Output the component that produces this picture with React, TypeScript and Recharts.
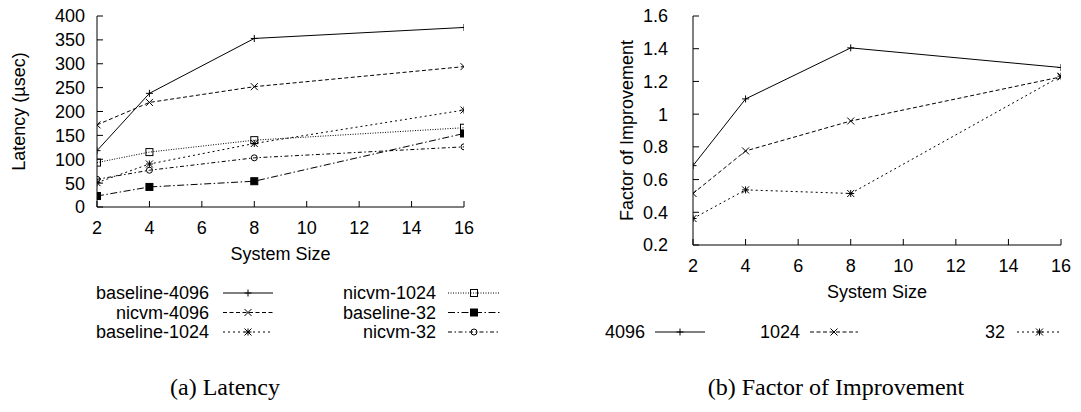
import React from 'react';
import { LineChart, Line, XAxis, YAxis, Legend } from 'recharts';

// System sizes (number of nodes) on the x axis
const systemSizes = [2, 4, 8, 16];
const sizeTicks = [2, 4, 6, 8, 10, 12, 14, 16];

// Latency in microseconds
const baseline4096 = [118, 238, 353, 376];
const nicvm4096 = [172, 219, 252, 294];
const baseline1024 = [51, 90, 133, 203];
const nicvm1024 = [93, 115, 140, 166];
const baseline32 = [23, 42, 54, 154];
const nicvm32 = [58, 77, 103, 126];
const latencyTicks = [0, 50, 100, 150, 200, 250, 300, 350, 400];

// Factor of improvement
const factor4096 = [0.685, 1.093, 1.405, 1.285];
const factor1024 = [0.515, 0.775, 0.958, 1.228];
const factor32 = [0.362, 0.537, 0.515, 1.232];
const factorTicks = [0.2, 0.4, 0.6, 0.8, 1.0, 1.2, 1.4, 1.6];

type Shape = 'plus' | 'cross' | 'star' | 'square' | 'filledSquare' | 'circle';

interface SeriesDef {
  key: string;
  name: string;
  values: number[];
  shape: Shape;
  dash?: string;
}

const latencySeries: SeriesDef[] = [
  { key: 'b4096', name: 'baseline-4096', values: baseline4096, shape: 'plus' },
  { key: 'n4096', name: 'nicvm-4096', values: nicvm4096, shape: 'cross', dash: '4 2.5' },
  { key: 'b1024', name: 'baseline-1024', values: baseline1024, shape: 'star', dash: '2 3' },
  { key: 'n1024', name: 'nicvm-1024', values: nicvm1024, shape: 'square', dash: '1 1.5' },
  { key: 'b32', name: 'baseline-32', values: baseline32, shape: 'filledSquare', dash: '7 2.5 1.5 2.5' },
  { key: 'n32', name: 'nicvm-32', values: nicvm32, shape: 'circle', dash: '4 2.5 1.5 2.5' },
];

const factorSeries: SeriesDef[] = [
  { key: 'f4096', name: '4096', values: factor4096, shape: 'plus' },
  { key: 'f1024', name: '1024', values: factor1024, shape: 'cross', dash: '4 2.5' },
  { key: 'f32', name: '32', values: factor32, shape: 'star', dash: '2 3' },
];

const buildRows = (series: SeriesDef[]) =>
  systemSizes.map((x, i) => {
    const row: Record<string, number> = { x };
    series.forEach((s) => {
      row[s.key] = s.values[i];
    });
    return row;
  });

const latencyData = buildRows(latencySeries);
const factorData = buildRows(factorSeries);

const INK = '#000';
const SANS = '"Liberation Sans", Arial, Helvetica, sans-serif';
const tickStyle = { fontFamily: SANS, fontSize: 18, fill: INK };

function Marker({ cx, cy, shape }: { cx: number; cy: number; shape: Shape }) {
  const s = 3.5;
  const common = { stroke: INK, strokeWidth: 1, fill: 'none' };
  if (cx == null || cy == null) return null;
  switch (shape) {
    case 'plus':
      return <path d={`M${cx - s},${cy}H${cx + s}M${cx},${cy - s}V${cy + s}`} {...common} />;
    case 'cross':
      return (
        <path
          d={`M${cx - s},${cy - s}L${cx + s},${cy + s}M${cx - s},${cy + s}L${cx + s},${cy - s}`}
          {...common}
        />
      );
    case 'star':
      return (
        <path
          d={`M${cx - s},${cy}H${cx + s}M${cx},${cy - s}V${cy + s}M${cx - s},${cy - s}L${cx + s},${cy + s}M${cx - s},${cy + s}L${cx + s},${cy - s}`}
          {...common}
        />
      );
    case 'square':
      return <rect x={cx - s} y={cy - s} width={2 * s} height={2 * s} {...common} />;
    case 'filledSquare':
      return <rect x={cx - s} y={cy - s} width={2 * s} height={2 * s} fill={INK} stroke={INK} />;
    case 'circle':
      return <circle cx={cx} cy={cy} r={s - 0.5} {...common} />;
    default:
      return null;
  }
}

const dotFor = (shape: Shape) => (p: any) =>
  (
    <g key={`dot-${p.index}`}>
      <Marker cx={p.cx} cy={p.cy} shape={shape} />
    </g>
  );

function VerticalTitle(props: any) {
  const { viewBox, value, offsetX } = props;
  const cx = viewBox.x + offsetX;
  const cy = viewBox.y + viewBox.height / 2;
  return (
    <text
      x={cx}
      y={cy}
      transform={`rotate(-90 ${cx} ${cy})`}
      textAnchor="middle"
      dominantBaseline="central"
      fontFamily={SANS}
      fontSize={18}
      fill={INK}
    >
      {value}
    </text>
  );
}

function BottomTitle(props: any) {
  const { viewBox, value, offsetY } = props;
  return (
    <text
      x={viewBox.x + viewBox.width / 2}
      y={viewBox.y + offsetY}
      textAnchor="middle"
      dominantBaseline="central"
      fontFamily={SANS}
      fontSize={18}
      fill={INK}
    >
      {value}
    </text>
  );
}

interface LegendSlot {
  textRight: number;
  sampleFrom: number;
  sampleTo: number;
  y: number;
}

function KeyBlock({ series, slots }: { series: SeriesDef[]; slots: LegendSlot[] }) {
  return (
    <svg width="100%" height="100%" style={{ position: 'absolute', left: 0, top: 0, overflow: 'visible' }}>
      {series.map((s, i) => {
        const slot = slots[i];
        const mid = (slot.sampleFrom + slot.sampleTo) / 2;
        return (
          <g key={s.key}>
            <text
              x={slot.textRight}
              y={slot.y}
              textAnchor="end"
              dominantBaseline="central"
              fontFamily={SANS}
              fontSize={18}
              fill={INK}
            >
              {s.name}
            </text>
            <line
              x1={slot.sampleFrom}
              x2={slot.sampleTo}
              y1={slot.y}
              y2={slot.y}
              stroke={INK}
              strokeWidth={1}
              strokeDasharray={s.dash}
            />
            <Marker cx={mid} cy={slot.y} shape={s.shape} />
          </g>
        );
      })}
    </svg>
  );
}

const latencySlots: LegendSlot[] = [
  { textRight: 209, sampleFrom: 223, sampleTo: 273, y: 293 },
  { textRight: 209, sampleFrom: 223, sampleTo: 273, y: 312.5 },
  { textRight: 209, sampleFrom: 223, sampleTo: 273, y: 332 },
  { textRight: 436, sampleFrom: 448, sampleTo: 500, y: 293 },
  { textRight: 436, sampleFrom: 448, sampleTo: 500, y: 312.5 },
  { textRight: 436, sampleFrom: 448, sampleTo: 500, y: 332 },
];

// the right panel sits 560px in; its key slots use its own coordinates
const factorSlots: LegendSlot[] = [
  { textRight: 645 - 560, sampleFrom: 655 - 560, sampleTo: 705 - 560, y: 332 },
  { textRight: 800 - 560, sampleFrom: 810 - 560, sampleTo: 858 - 560, y: 332 },
  { textRight: 1005 - 560, sampleFrom: 1017 - 560, sampleTo: 1062 - 560, y: 332 },
];

const fmtFactor = (v: number) => String(Number(v.toFixed(1)));

function Panel(props: {
  data: Record<string, number>[];
  series: SeriesDef[];
  slots: LegendSlot[];
  width: number;
  yAxisWidth: number;
  marginRight: number;
  plotBottom: number;
  yDomain: [number, number];
  yTicks: number[];
  yTickMargin: number;
  yTitle: string;
  yTitleX: number;
  yFormatter?: (v: number) => string;
}) {
  const H = 412;
  const xAxisHeight = 60;
  const top = 16;
  return (
    <LineChart
      width={props.width}
      height={H}
      data={props.data}
      margin={{ top, right: props.marginRight, left: 0, bottom: H - props.plotBottom - xAxisHeight }}
    >
      <XAxis
        dataKey="x"
        type="number"
        domain={[2, 16]}
        ticks={sizeTicks}
        interval={0}
        allowDataOverflow
        height={xAxisHeight}
        tickSize={-6}
        tickMargin={20}
        tick={tickStyle}
        axisLine={{ stroke: INK }}
        tickLine={{ stroke: INK }}
        label={<BottomTitle value="System Size" offsetY={47} />}
      />
      <XAxis
        xAxisId="top"
        orientation="top"
        dataKey="x"
        type="number"
        domain={[2, 16]}
        ticks={sizeTicks}
        interval={0}
        allowDataOverflow
        height={0}
        tickSize={-6}
        tick={false}
        axisLine={{ stroke: INK }}
        tickLine={{ stroke: INK }}
      />
      <YAxis
        type="number"
        domain={props.yDomain}
        ticks={props.yTicks}
        interval={0}
        allowDataOverflow
        width={props.yAxisWidth}
        tickSize={-6}
        tickMargin={props.yTickMargin}
        tick={tickStyle}
        tickFormatter={props.yFormatter}
        axisLine={{ stroke: INK }}
        tickLine={{ stroke: INK }}
        label={<VerticalTitle value={props.yTitle} offsetX={props.yTitleX} />}
      />
      <YAxis
        yAxisId="right"
        orientation="right"
        type="number"
        domain={props.yDomain}
        ticks={props.yTicks}
        interval={0}
        allowDataOverflow
        width={0}
        tickSize={-6}
        tick={false}
        axisLine={{ stroke: INK }}
        tickLine={{ stroke: INK }}
      />
      {props.series.map((s) => (
        <Line
          key={s.key}
          dataKey={s.key}
          name={s.name}
          type="linear"
          stroke={INK}
          strokeWidth={1}
          strokeDasharray={s.dash}
          dot={dotFor(s.shape)}
          activeDot={false}
          isAnimationActive={false}
        />
      ))}
      <Legend
        layout="horizontal"
        verticalAlign="middle"
        align="center"
        wrapperStyle={{ left: 0, top: 0, width: props.width, height: H, pointerEvents: 'none' }}
        content={() => <KeyBlock series={props.series} slots={props.slots} />}
      />
    </LineChart>
  );
}

const captionStyle: React.CSSProperties = {
  position: 'absolute',
  top: 374,
  fontFamily: '"Liberation Serif", "DejaVu Serif", serif',
  fontSize: 24,
  color: INK,
  whiteSpace: 'nowrap',
  transform: 'translateX(-50%)',
};

export default function App() {
  return (
    <div
      style={{
        position: 'absolute',
        left: 0,
        top: 0,
        width: 1081,
        height: 412,
        background: '#fff',
        overflow: 'hidden',
      }}
    >
      <div style={{ position: 'absolute', left: 0, top: 0 }}>
        <Panel
          data={latencyData}
          series={latencySeries}
          slots={latencySlots}
          width={520}
          yAxisWidth={97}
          marginRight={520 - 464}
          plotBottom={207}
          yDomain={[0, 400]}
          yTicks={latencyTicks}
          yTickMargin={18}
          yTitle="Latency (µsec)"
          yTitleX={19}
        />
      </div>
      <div style={{ position: 'absolute', left: 560, top: 0 }}>
        <Panel
          data={factorData}
          series={factorSeries}
          slots={factorSlots}
          width={521}
          yAxisWidth={693 - 560}
          marginRight={521 - (1061 - 560)}
          plotBottom={245}
          yDomain={[0.2, 1.6]}
          yTicks={factorTicks}
          yTickMargin={31}
          yTitle="Factor of Improvement"
          yTitleX={67}
          yFormatter={fmtFactor}
        />
      </div>
      <div style={{ ...captionStyle, left: 225 }}>(a) Latency</div>
      <div style={{ ...captionStyle, left: 836 }}>(b) Factor of Improvement</div>
    </div>
  );
}
